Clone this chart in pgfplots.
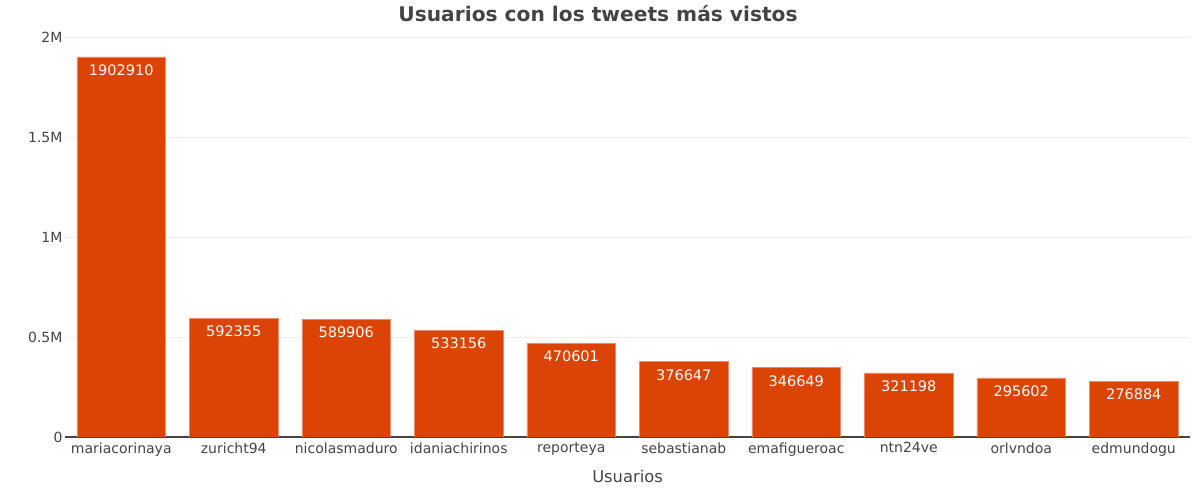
\documentclass[border=0pt]{standalone}
\usepackage{fontspec}
\setmainfont{DejaVu Sans}
\usepackage{pgfplots}
\pgfplotsset{compat=1.18}
\definecolor{barc}{HTML}{DC4405}
\definecolor{bare}{HTML}{EE8A66}
\definecolor{txt}{HTML}{444444}
\definecolor{gridc}{HTML}{EEEEEE}
\begin{document}
\begin{tikzpicture}[x=1pt,y=1pt]
\begin{axis}[
  scale only axis,
  width=1125pt, height=400pt,
  xmin=-0.5, xmax=9.5,
  ymin=0, ymax=2003000,
  axis lines*=left,
  y axis line style={draw=none},
  x axis line style={-, draw=txt, line width=1.8pt},
  xtick=data,
  xticklabels={mariacorinaya,zuricht94,nicolasmaduro,idaniachirinos,reporteya,sebastianab,emafigueroac,ntn24ve,orlvndoa,edmundogu},
  ytick={0,500000,1000000,1500000,2000000},
  yticklabels={0,0.5M,1M,1.5M,2M},
  major tick length=0pt,
  tick style={draw=none},
  ymajorgrids,
  grid style={draw=gridc, line width=1pt},
  ticklabel style={font=\fontsize{14}{16}\selectfont, text=txt},
  xticklabel style={anchor=north, yshift=-2pt},
  yticklabel style={anchor=east, xshift=1pt},
  scaled y ticks=false,
  xlabel={Usuarios},
  xlabel style={at={(axis description cs:0.5,0)}, anchor=center, yshift=-39pt, font=\fontsize{16.3}{19}\selectfont, text=txt},
  title={\textbf{Usuarios con los tweets más vistos}},
  title style={at={(axis description cs:0.4738,1)}, anchor=center, yshift=17pt, font=\fontsize{20.2}{24}\selectfont, text=txt},
  ybar, bar width=0.79,
  point meta=explicit symbolic,
  nodes near coords,
  every node near coord/.append style={anchor=center, yshift=-13pt, text=white, font=\fontsize{14.5}{16}\selectfont},
]
\addplot[fill=barc, draw=bare, line width=0.6pt] coordinates {
(0,1902910) [1902910]
(1,592355) [592355]
(2,589906) [589906]
(3,533156) [533156]
(4,470601) [470601]
(5,376647) [376647]
(6,346649) [346649]
(7,321198) [321198]
(8,295602) [295602]
(9,276884) [276884]
};
\end{axis}
\path (current axis.south west) ++(0,0) coordinate (o);
\useasboundingbox ([xshift=-65pt,yshift=-66pt]o) rectangle ++(1200pt,503pt);
\end{tikzpicture}
\end{document}
